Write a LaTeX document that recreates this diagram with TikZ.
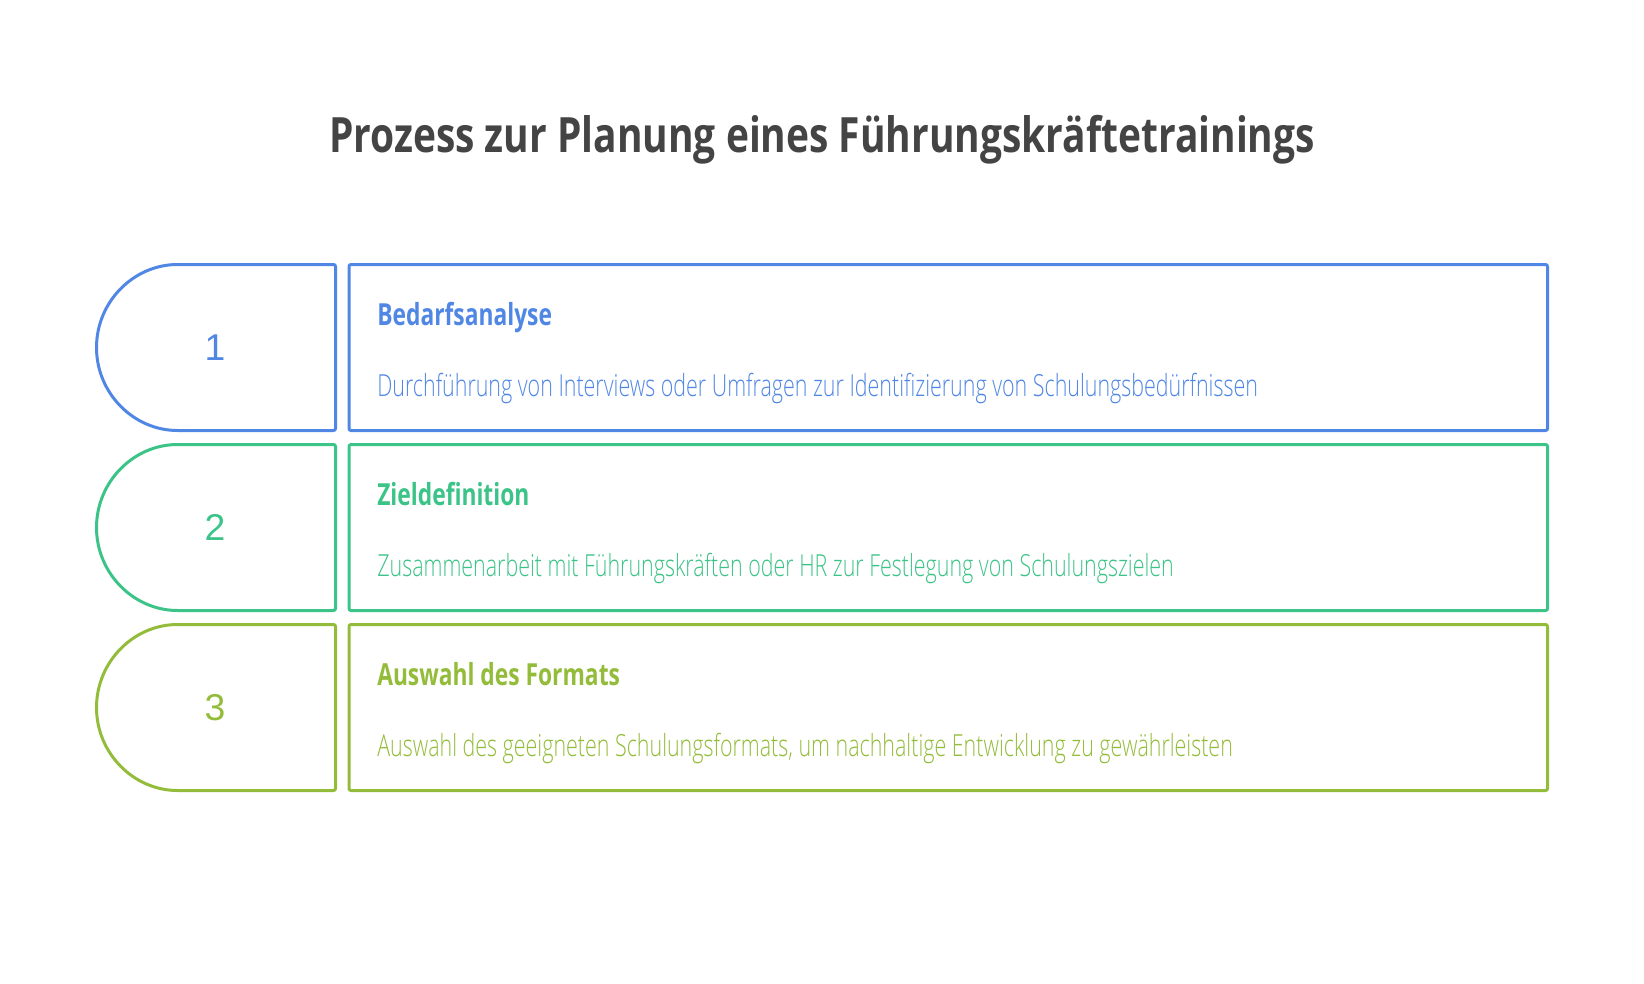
\documentclass[tikz,border=0pt]{standalone}
\usepackage{fontspec}
\setmainfont{Open Sans}
\newfontfamily\condfont[FakeStretch=0.75]{Open Sans}
\newfontfamily\titlefont[FakeStretch=0.80]{Open Sans}
\newfontfamily\lightfont[FakeStretch=0.705, UprightFont={* Light}]{Open Sans}
\newfontfamily\numfont{Liberation Sans}
\usetikzlibrary{positioning}

\definecolor{titlegray}{HTML}{444444}
\definecolor{stepblue}{HTML}{5087E4}
\definecolor{stepgreen}{HTML}{3CC387}
\definecolor{steplime}{HTML}{93BC3A}

\begin{document}
\begin{tikzpicture}[x=0.75pt, y=-0.75pt, line join=round,
	frame/.style={line width=2.25pt, rounded corners=1.5pt},
	numlabel/.style={font=\numfont\fontsize{28pt}{28pt}\selectfont},
	headlabel/.style={anchor=base west, inner sep=0pt, font=\condfont\bfseries\fontsize{22.8pt}{22.8pt}\selectfont},
	desclabel/.style={anchor=base west, inner sep=0pt, font=\lightfont\fontsize{22.8pt}{22.8pt}\selectfont}]
	
	\useasboundingbox (0,0) rectangle (1644,984);
	
	% --- Title ---
	\node[font=\titlefont\bfseries\fontsize{36.5pt}{36.5pt}\selectfont, text=titlegray,
	anchor=base] (title) at (822,152.7) {Prozess zur Planung eines Führungskräftetrainings};
	
	% --- Step 1 ---
	\draw[frame, stepblue] (335.5,264.5) -- (179.5,264.5) arc[start angle=270, end angle=90, radius=83] -- (335.5,430.5) -- cycle;
	\draw[frame, stepblue] (349,264.5) rectangle (1547.5,430.5);
	\node[numlabel, text=stepblue] (num1) at (215,347.5) {1};
	\node[headlabel, text=stepblue] (head1) at (377,325) {Bedarfsanalyse};
	\node[desclabel, text=stepblue] (desc1) at (377,396.7) {Durchführung von Interviews oder Umfragen zur Identifizierung von Schulungsbedürfnissen};
	
	% --- Step 2 ---
	\draw[frame, stepgreen] (335.5,444.5) -- (179.5,444.5) arc[start angle=270, end angle=90, radius=83] -- (335.5,610.5) -- cycle;
	\draw[frame, stepgreen] (349,444.5) rectangle (1547.5,610.5);
	\node[numlabel, text=stepgreen] (num2) at (215,527.5) {2};
	\node[headlabel, text=stepgreen] (head2) at (377,505) {Zieldefinition};
	\node[desclabel, text=stepgreen] (desc2) at (377,576.7) {Zusammenarbeit mit Führungskräften oder HR zur Festlegung von Schulungszielen};
	
	% --- Step 3 ---
	\draw[frame, steplime] (335.5,624.5) -- (179.5,624.5) arc[start angle=270, end angle=90, radius=83] -- (335.5,790.5) -- cycle;
	\draw[frame, steplime] (349,624.5) rectangle (1547.5,790.5);
	\node[numlabel, text=steplime] (num3) at (215,707.5) {3};
	\node[headlabel, text=steplime] (head3) at (377,685) {Auswahl des Formats};
	\node[desclabel, text=steplime] (desc3) at (377,756.7) {Auswahl des geeigneten Schulungsformats, um nachhaltige Entwicklung zu gewährleisten};
	
\end{tikzpicture}
\end{document}
